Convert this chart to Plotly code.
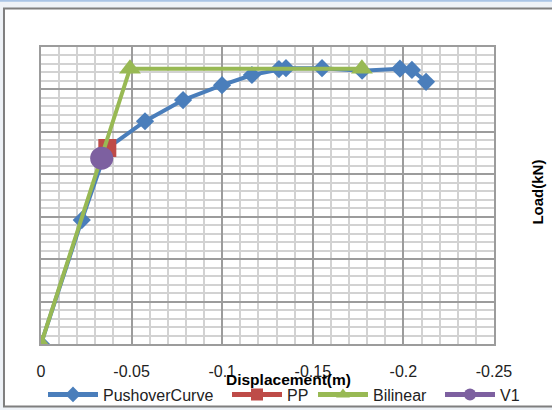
import plotly.graph_objects as go

# ---- data ----
pushover_x = [0, -0.0225, -0.0362, -0.0574, -0.0784, -0.0999, -0.1164, -0.1313, -0.1352,
              -0.1551, -0.1772, -0.1981, -0.2047, -0.2125]
pushover_y = [0, 292, 460, 525, 575, 610, 634, 648, 650, 650, 644, 649, 646, 618]
pp_x = [-0.0366]
pp_y = [462]
bilinear_x = [0, -0.0491, -0.1771]
bilinear_y = [0, 649, 649]
v1_x = [-0.0335]
v1_y = [438]

x_tick_vals = [0, -0.05, -0.1, -0.15, -0.2, -0.25]
x_tick_text = ["0", "-0.05", "-0.1", "-0.15", "-0.2", "-0.25"]

BLUE = "#4A7EBB"
RED = "#BE4B48"
GREEN = "#98B954"
PURPLE = "#7D60A0"
FONT = "Liberation Sans"

fig = go.Figure()
fig.add_trace(go.Scatter(x=pushover_x, y=pushover_y, name="PushoverCurve", mode="lines+markers",
                         line=dict(color=BLUE, width=4), legend="legend",
                         marker=dict(symbol="diamond", size=14, color=BLUE)))
fig.add_trace(go.Scatter(x=pp_x, y=pp_y, name="PP", mode="lines+markers",
                         line=dict(color=RED, width=4), legend="legend2",
                         marker=dict(symbol="square", size=18, color=RED)))
fig.add_trace(go.Scatter(x=bilinear_x, y=bilinear_y, name="Bilinear", mode="lines+markers",
                         line=dict(color=GREEN, width=4), legend="legend3",
                         marker=dict(symbol="triangle-up", size=19, color=GREEN)))
fig.add_trace(go.Scatter(x=v1_x, y=v1_y, name="V1", mode="lines+markers",
                         line=dict(color=PURPLE, width=4), legend="legend4",
                         marker=dict(symbol="circle", size=23, color=PURPLE)))

MAJOR = "#9C9C9C"
MINOR = "#D2D2D2"

PLOT_L, PLOT_W = 41, 453


def legend_at(px_left):
    return dict(orientation="h", x=(px_left - PLOT_L) / PLOT_W, xanchor="left",
                y=-0.17, yanchor="middle", font=dict(size=16, color="#222222"),
                itemsizing="constant", itemwidth=50, bgcolor="rgba(0,0,0,0)")


fig.update_layout(
    width=552, height=410,
    margin=dict(l=41, r=58, t=47, b=66, autoexpand=False),
    paper_bgcolor="#EEF2F7",
    plot_bgcolor="white",
    font=dict(family=FONT, size=16, color="#222222"),
    showlegend=True,
    legend=legend_at(43),
    legend2=legend_at(227),
    legend3=legend_at(313),
    legend4=legend_at(440),
    xaxis=dict(range=[0, -0.25], tickmode="array", tickvals=x_tick_vals, ticktext=x_tick_text,
               showgrid=True, gridcolor=MAJOR, gridwidth=1.5, zeroline=False,
               showline=True, mirror=True, linecolor=MAJOR, linewidth=1.5,
               ticks="", ticklabelstandoff=12,
               minor=dict(tickmode="linear", tick0=0, dtick=0.01, showgrid=True,
                          gridcolor=MINOR, gridwidth=1.5)),
    yaxis=dict(range=[0, 700], tickmode="linear", tick0=0, dtick=100,
               showticklabels=False, showgrid=True, gridcolor=MAJOR, gridwidth=1.5,
               zeroline=False, showline=True, mirror=True, linecolor=MAJOR, linewidth=1.5,
               ticks="",
               minor=dict(tickmode="linear", tick0=0, dtick=20, showgrid=True,
                          gridcolor=MINOR, gridwidth=1.5)),
    shapes=[
        dict(type="rect", xref="paper", yref="paper", x0=-0.0817, x1=1.25, y0=-0.2107, y1=1.130,
             fillcolor="white", line=dict(color="#7F7F7F", width=2), layer="below"),
        dict(type="rect", xref="paper", yref="paper", x0=-0.2, x1=1.3, y0=1.152, y1=1.16,
             fillcolor="#A9C4E6", line=dict(width=0), layer="below"),
    ],
    annotations=[
        dict(text="<b>Displacement(m)</b>", xref="paper", yref="paper", x=0.547, y=-0.12,
             xanchor="center", yanchor="middle", showarrow=False, font=dict(size=15.5, color="black")),
        dict(text="<b>Load(kN)</b>", xref="paper", yref="paper", x=1.095, y=0.51,
             xanchor="center", yanchor="middle", textangle=-90, showarrow=False,
             font=dict(size=15, color="black")),
    ],
)

fig.write_html("out.html")
